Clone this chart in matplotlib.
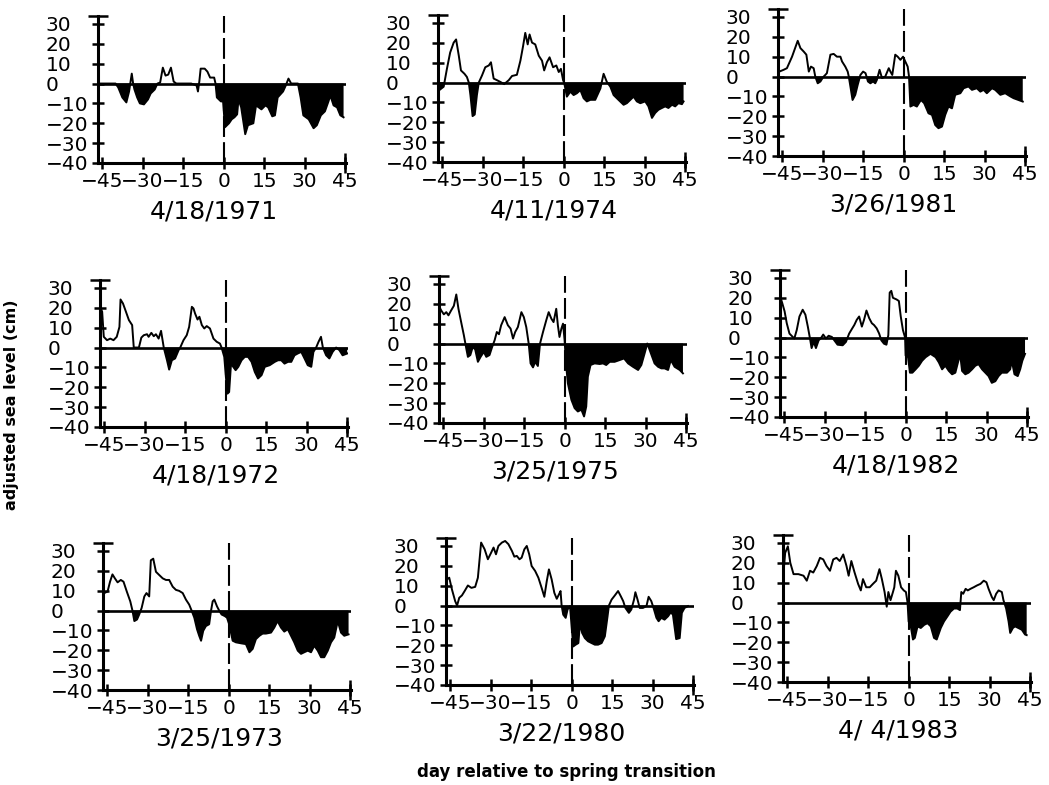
import matplotlib
matplotlib.use("Agg")
import matplotlib.pyplot as plt
import numpy as np

# ---- data: adjusted sea level (cm) vs day relative to spring transition ----
d71 = [-46.3, -40, -39, -37.5, -36, -35, -34, -33.5, -33, -32, -31, -29.5, -28, -27, -25.5, -24.5, -23.5,
       -22.5, -21.5, -20.5, -19.5, -18.5, -17.5, -12, -10, -9.5, -9, -8.5, -7, -6, -5, -3.5, -3, -2.5, -1,
       -0.2, 0.5, 2, 3, 4, 5, 5.5, 6.5, 8, 9, 11, 12, 14, 15.5, 16.5, 18, 19, 20, 22, 23, 24, 25, 27.5,
       28.5, 29.5, 31.5, 33.3, 34.5, 36, 37.5, 38.8, 39.5, 40.7, 42, 43.2, 44.4]
v71 = [0, 0, -2, -7, -9.5, -4, 5, 0, -3, -7, -10, -10.5, -8, -5, -3, 0, 0.5, 8, 4, 4.5, 8, 1, 0, 0, -1,
       -4, 1, 7.5, 7.5, 6, 3, 3, 0, -7, -9, -9, -22, -20, -18, -17, -15.5, -8, -12, -25.5, -21, -20, -11,
       -13, -11, -12, -16.5, -16, -7, -4, -1, 2.5, 0, 0, -7, -16, -18, -22.5, -21, -16, -14, -9, -6, -11,
       -12, -16, -17]

d74 = [-46, -44.4, -43.2, -42, -40.7, -39.8, -38.8, -38, -36.7, -35.8, -35.1, -34.5, -33.7, -32.9, -32.1,
       -31.4, -30.2, -29, -27.7, -26.9, -25.9, -24.7, -23.4, -22, -20.3, -19.1, -17.3, -16, -15, -14.2,
       -13.3, -12.6, -11.7, -10.5, -9.2, -8, -7.2, -6.2, -5.2, -3.9, -2.7, -1.8, -1, -0.2, 0.2, 1.2, 2.5,
       3.7, 4.9, 6.2, 7.4, 8.6, 9.9, 11.7, 13.6, 14.8, 16, 17.3, 18.5, 20.3, 22.2, 23.4, 24.7, 25.9, 27.1,
       28.4, 30.2, 31.4, 32.7, 33.9, 35.1, 36.4, 37.6, 38.8, 40.1, 41.3, 42.5, 43.8, 44.4]
v74 = [-3.8, -2.1, 6.9, 15.1, 20.1, 21.7, 13.5, 6.1, 4.4, 2.8, 0, -6.3, -16.9, -16.1, -6.3, 0, 3.6, 7.7,
       8.6, 10.2, 2, 1.2, 0.3, -0.8, 1.2, 3.3, 3.9, 11, 18.4, 25, 19.2, 24.2, 20.1, 19.2, 13.5, 11, 6.1,
       10.2, 12.7, 7.7, 8.6, 5.3, 6.9, 1.2, 0, -7.1, -4.6, -6.3, -5.4, -3.8, -7.9, -9.5, -8.7, -8.7, -3,
       4.4, 0.3, -2.1, -6.3, -8.7, -11.2, -10.4, -8.7, -7.1, -9.5, -10.4, -9.5, -12, -17.8, -15.3, -13.7,
       -12.8, -12, -12.8, -11.2, -12, -10.4, -10.9, -9.5]

d81 = [-46, -44.4, -43.2, -41.3, -39.2, -38.2, -37, -36, -35.1, -34.3, -33.3, -32.7, -31.8, -30.8, -29.8,
       -29, -28.4, -27.1, -25.9, -24.7, -23.4, -22.8, -21.6, -20.7, -20.3, -19.7, -18.9, -17.9, -17, -16,
       -15, -14.1, -13.2, -12.3, -11.3, -10.5, -9.9, -8.9, -8, -6.8, -5.5, -4.9, -4.2, -3.1, -2.2, -1.2,
       -0.2, 0.6, 1.5, 2, 2.5, 3.7, 4.9, 6.4, 7.6, 9.2, 10.5, 11.7, 12.9, 14.2, 15.4, 16.6, 17.9, 19.1, 21,
       22.2, 24, 25.3, 27.1, 28.4, 29.6, 30.8, 32.7, 33.9, 35.8, 37.6, 39.5, 40.7, 42.5, 44.1]
v81 = [2.5, 3.4, 4.2, 10, 18, 14.3, 12.6, 11, 2.5, 5, 4.2, 0, -3.4, -2.5, -0.3, 0.8, 1.7, 11, 11.4, 10, 10,
       7.6, 5, 2.5, 0, -5, -11.8, -9.2, -4.2, 0.8, 2.5, 1.7, -2.5, -3.4, -2.5, -3.4, -1.7, 3.4, -0.8, 0,
       4.2, 2.5, 0.8, 11, 10, 8.4, 10, 7.6, 5, 0, -15.1, -14.3, -15.1, -11.8, -13.4, -18.5, -19.3, -24.4,
       -26, -25.2, -19.3, -15.1, -16, -9.2, -8.4, -5.9, -5, -6.7, -5.9, -7.6, -6.7, -8.4, -5.9, -6.7, -9.2,
       -8.4, -10, -10.9, -11.8, -12.6]

d72 = [-46.3, -45.7, -45.1, -43.9, -42.7, -41.5, -40.3, -39.3, -38.9, -38, -37.1, -35.8, -34.6, -34, -32.1,
       -31.2, -30.3, -29.1, -28.5, -27.5, -26.6, -25.8, -24.8, -23.9, -22.9, -21.7, -20.9, -19.9, -18.7,
       -17.4, -16.8, -15.6, -14.4, -13.5, -12.5, -11.9, -11.3, -10.4, -9.7, -8.8, -7.9, -7, -5.8, -4.5,
       -3.3, -2.1, -1.5, -0.5, 0.1, 0.7, 1.3, 2, 2.8, 3.7, 4.7, 5.9, 7.1, 8.3, 9.6, 10.8, 12, 13.3, 14.5,
       16.3, 18.2, 19.4, 20.6, 21.8, 23.1, 24.3, 25.5, 26.7, 28, 29.2, 30.4, 31.7, 32.5, 33.5, 34.4, 35.3,
       36, 37.2, 38.4, 39.6, 40.9, 42.1, 43.3, 45]
v72 = [20, 18, 5.4, 3.7, 4.5, 3.7, 5.4, 10.4, 24.2, 22.2, 18.8, 13.8, 11.3, 0, 0, 5, 6.2, 6.7, 5.4, 7.4,
       5.7, 6.7, 4.5, 8.4, 0, -6.4, -11.1, -6.4, -5.5, -1.3, 0, 3.7, 6.2, 10.4, 20.5, 19.7, 17.1, 14.1, 15.5,
       11.3, 9.6, 10.8, 9.6, 4.5, 2.9, 2, 0, -4.7, -14.8, -23.2, -22.4, -8.1, -9.7, -11.4, -9.7, -6.4, -4.7,
       -4.7, -7.2, -12.3, -15.6, -13.9, -9.7, -8.9, -7.2, -6.4, -6.4, -8.1, -7.2, -7.2, -3.9, -3, -2.2,
       -5.5, -8.9, -9.7, -2.2, 0, 2.9, 5.4, 0, -3.9, -5.5, -2.2, 0, -1.3, -3.9, -3]

d75 = [-46.3, -45.7, -44.7, -43.8, -43, -42, -41, -40.1, -39.3, -38.3, -37.3, -36.4, -35.8, -34.9, -34,
       -33.1, -32.1, -31.1, -29.9, -29, -27.8, -26.9, -25.9, -25.1, -24.3, -23.5, -22.2, -21, -20, -19.1,
       -18.3, -17.3, -16, -15.1, -14.2, -13.3, -12.6, -11.7, -10.9, -9.9, -9.1, -8, -6.8, -5.9, -4.9, -4.1,
       -3.1, -2.5, -1.9, -1.2, -0.6, 0, 0.5, 1.2, 2.5, 3.7, 4.9, 6.2, 7.2, 8, 8.6, 9.6, 11.1, 13, 14.2,
       15.4, 16.7, 18.5, 20.4, 22, 23.5, 25.3, 27.2, 28.4, 29.6, 30.6, 31.5, 33.3, 34.6, 35.8, 37, 38.3,
       39.3, 40.7, 42.6, 43.8]
v75 = [18.3, 16.7, 14.7, 15.8, 14.2, 16.7, 19, 24.7, 17.5, 10.8, 4.2, -2.5, -6.7, -5.8, -1.7, -3, -9.2,
       -6.7, -4.2, -6.7, -5.8, -2, 1.7, 5.8, 4.7, 9.2, 13.3, 9.2, 7.5, 2.5, 5.8, 8.3, 15.8, 13.3, 8.3, 0,
       -10, -12, -9.2, -11.3, 0, 5.8, 11.7, 15.8, 12.5, 10.8, 17.5, 9.2, 3.3, 7.5, 10, 1.7, -10, -20,
       -28.3, -32.5, -34.2, -33.3, -36.7, -31.7, -16.7, -10.8, -10, -10.3, -10, -10.8, -9.2, -9.2, -8.3,
       -7.5, -10, -11.7, -13.3, -10.8, -5, 0, -3.3, -10, -11.7, -12.5, -12.5, -13.3, -8.3, -11.7, -13.3, -15]

d82 = [-46.3, -45.7, -44.8, -44, -43, -41.2, -40.3, -39.3, -38.1, -37.1, -36.2, -35.4, -34.8, -34, -33.2,
       -32.2, -31.3, -30.5, -29.5, -28.5, -27.3, -26.4, -25.2, -23.3, -22.1, -20.9, -19.9, -19, -18.1,
       -17.2, -16.2, -15.4, -14.5, -13.5, -12.5, -11.7, -10.7, -9.8, -9, -8, -7.1, -6.4, -5.9, -5.3, -4.7,
       -3.4, -2.5, -1.8, -1, -0.2, 0, 0.9, 1.6, 2.5, 3.7, 4.9, 6.1, 7.4, 9.2, 11.1, 12.3, 13.5, 14.7, 16,
       17.2, 18.4, 19.7, 20.3, 20.9, 22.1, 23.3, 24.6, 25.8, 27, 28.3, 29.5, 30.7, 31.9, 33.2, 34.4, 35.6,
       37.5, 38.7, 39.3, 40.3, 41.5, 42.4, 43.2, 44.2]
v82 = [20, 17.5, 13.2, 7.2, 2, -0.5, 3.8, 10.6, 14, 11.5, 5.5, -0.5, -5.3, -2.2, -5.3, -1.4, -0.2, 1.5,
       -0.5, 0.9, 0.3, -1.4, -3.6, -3.9, -2.2, 2, 4.3, 6.3, 8.9, 10.6, 5.5, 8.9, 13.6, 9.8, 7.2, 6.3, 4.6,
       2, -1.4, -3.1, -3.6, 1.2, 22.6, 23.5, 20, 19.2, 18.4, 10.6, 3.8, 0, -9.1, -9.9, -17.7, -17.7, -16,
       -14.2, -11.7, -9.9, -8.2, -9.9, -12.5, -16, -14.2, -16.8, -18.5, -17.7, -10.8, -9.9, -16.8, -18.5,
       -17.7, -16, -14.2, -13.4, -16, -17.7, -19.4, -22.8, -22, -19.4, -17.7, -17.7, -16, -11.7, -18.5,
       -19.4, -16, -11.7, -8.2]

d73 = [-46.5, -46, -44.8, -43.9, -43, -42.1, -41.1, -39.9, -38.9, -37.7, -36.4, -35.6, -34.9, -33.9, -33.1,
       -32.2, -31.2, -30.4, -29.4, -28.8, -27.9, -26.9, -25.7, -24.4, -23.2, -22, -20.7, -19.5, -18.3, -17,
       -15.8, -14.6, -13.7, -12.7, -11.7, -10.9, -10.2, -9.4, -8.4, -7.2, -6.5, -5.9, -5.3, -4.3, -3.5,
       -2.6, -1.4, -0.6, 0.2, 1.5, 2.7, 4.6, 6.4, 7.7, 8.9, 10.1, 11.4, 12.6, 13.8, 15.7, 16.9, 18.1, 19.4,
       20.6, 21.9, 23.1, 24.3, 25.6, 26.8, 28, 29.3, 30.5, 31.7, 33, 34.2, 35.4, 36.7, 37.9, 39.1, 40.4,
       41.6, 42.8, 44.4]
v73 = [11.2, 8.8, 9.6, 14.5, 18.2, 16.2, 14.2, 15.4, 14.5, 9.6, 4.6, 0, -5.3, -4.5, -2, 1.3, 7.1, 8.8, 7.1,
       25.3, 26.1, 19.5, 17.9, 16.2, 15.4, 15.4, 12, 10.4, 9.9, 8.8, 5.5, 3, 0, -3.6, -9.4, -12.7, -15.2,
       -10.2, -7.8, -6.9, 0, 4.6, 5.5, 2.1, 0, -2, -2.8, -3.6, -6.9, -15.2, -16, -16.5, -16.9, -21, -19.3,
       -14.4, -12.7, -11.6, -11.6, -11.1, -8.6, -5.3, -8.6, -10.6, -9.4, -12.7, -16, -20.2, -21.8, -21,
       -20.2, -21, -17.7, -20.2, -23.5, -23.5, -20.2, -16, -13.6, -5.3, -11.1, -12.7, -12]

d80 = [-46.1, -45.3, -44.3, -43.1, -42.4, -41.6, -40.6, -39.6, -38.4, -37.1, -35.7, -34.7, -33.5, -32.2, -31,
       -29.8, -28.9, -28, -27.1, -25.8, -24.6, -23.4, -22.1, -21.2, -20.3, -19.3, -18.5, -17.5, -16.6,
       -15.7, -14.8, -13.5, -12.3, -11.1, -10.1, -9.2, -8.4, -7.4, -6.4, -5.5, -4.7, -4.1, -3.7, -3.1,
       -2.2, -1.5, -0.6, 0, 0.6, 1.5, 2.5, 3.1, 3.9, 4.9, 6.1, 7.4, 8.6, 9.8, 11.1, 12.3, 13.3, 13.8, 14.8,
       16, 17.2, 18.2, 19.1, 19.9, 21.2, 22.1, 23.1, 23.6, 24.4, 25.2, 26.4, 27.7, 28.5, 29.5, 30.5, 31.4,
       32.2, 33.2, 34.4, 35.7, 36.7, 37.5, 38.7, 40, 40.8, 41.8, 43.1]
v80 = [13.2, 14, 8.1, 2.2, 0, 3.9, 5.1, 7.3, 10.1, 8.9, 9.4, 14, 31.7, 28.3, 23.3, 26.6, 29.2, 25.8, 30,
       31.7, 32.5, 30.9, 27.5, 24.6, 25, 23.3, 24.1, 28.3, 30, 25.8, 19.9, 17.4, 14, 8.9, 4.4, 12.3, 18.2,
       13.2, 6.4, 3.4, 5.6, 7.3, 0, -4.6, -6.2, -2, -0.3, -10.5, -20.6, -19.7, -18.9, -8.8, -13.8, -16.4,
       -18, -18.9, -19.7, -19.7, -18.9, -15.5, -5.4, 0, 3, 5.1, 7.3, 4.7, 2.2, -1.2, -3.7, -2, 3, 6.7, 3,
       -1.2, -1.2, -0.3, 4.4, 2.2, -2, -6.2, -7.9, -6.2, -7.1, -5.4, -3.4, -4.6, -16.9, -16.4, -3.7, -1.2,
       -0.3]

d83 = [-46.5, -46.3, -45.7, -44.7, -43.8, -42.6, -40.8, -38.9, -37.7, -36.5, -35.3, -34, -32.8, -31.6,
       -30.4, -29.1, -27.9, -26.7, -25.5, -24.2, -23, -22.2, -21.2, -20, -18.7, -17.7, -16.9, -15.7, -14.4,
       -13.2, -12, -10.8, -9.9, -8.9, -8.1, -7.5, -6.7, -5.8, -5.3, -4.7, -3.8, -2.8, -1.8, -1, -0.4, 0,
       0.9, 1.6, 2.3, 3.3, 4.5, 5.8, 7, 8.2, 9.4, 10.4, 11.9, 13.1, 14.3, 15.5, 16.8, 18, 19, 19.5, 20.2,
       21.1, 21.9, 22.9, 24.1, 25.3, 26.6, 27.8, 28.8, 29.6, 30.8, 31.5, 32.4, 33.3, 34.5, 35.1, 36.1, 37,
       37.6, 38.6, 39.4, 40.6, 41.9, 43.1, 43.7]
v83 = [20, 15.1, 25, 28.3, 20, 14.3, 14.3, 13.5, 11, 16, 15.1, 18.4, 22.5, 21.7, 18.4, 16, 21.7, 22.5,
       20.9, 24.2, 18.4, 13.5, 20.9, 15.1, 9.4, 6.1, 11.8, 7.7, 7.7, 9.4, 11, 16.8, 11.8, 5.3, -2.1, 5.3,
       1.2, 5.3, 7.7, 16, 13.5, 7.7, 6.1, 5.3, 0, -9.5, -12.8, -18.6, -17.8, -12, -12.8, -11.2, -10.4, -12,
       -17.8, -18.6, -12.8, -9.5, -7.1, -4.6, -3, -3, -3.8, 5.3, 4.4, 6.9, 6.1, 6.9, 7.7, 8.6, 9.4, 11,
       10.2, 6.9, 2.8, 1.2, 4.4, 6.1, 5.3, 1.2, -3, -9.5, -15.3, -12.8, -12, -12.8, -13.7, -16.1, -16.4]

dates = ["4/18/1971", "4/11/1974", "3/26/1981",
         "4/18/1972", "3/25/1975", "4/18/1982",
         "3/25/1973", "3/22/1980", "4/ 4/1983"]
series = [(d71, v71), (d74, v74), (d81, v81),
          (d72, v72), (d75, v75), (d82, v82),
          (d73, v73), (d80, v80), (d83, v83)]
xticks = [-45, -30, -15, 0, 15, 30, 45]
yticks = [-40, -30, -20, -10, 0, 10, 20, 30]

# panel placement in pixels: (left of y axis, bottom of x axis)
W, H = 1049, 785
corners = [(98, 163), (438, 162), (778, 156),
           (100, 427), (439, 423), (780, 417),
           (103, 690), (446, 685), (783, 682)]
pw, ph = 248, 147

plt.rcParams['font.family'] = ['DejaVu Sans']
fig = plt.figure(figsize=(W / 100, H / 100), dpi=100)

for (x0, yb), (d, v), date in zip(corners, series, dates):
    assert len(d) == len(v)
    d = np.array(d)
    v = np.array(v)
    ax = fig.add_axes([x0 / W, 1 - yb / H, pw / W, ph / H])
    ax.fill_between(d, v, 0, where=v < 0, interpolate=True, color='black', lw=0)
    ax.plot(d, v, color='black', lw=1.4)
    ax.axhline(0, color='black', lw=1.9)
    ax.axvline(0, color='black', lw=1.5, dashes=(10, 2.5))

    ax.set_xlim(-46.5, 45.3)
    ax.set_ylim(-40, 34)
    for s in ['top', 'right']:
        ax.spines[s].set_visible(False)
    for s in ['left', 'bottom']:
        ax.spines[s].set_linewidth(2.2)

    ax.set_xticks(xticks)
    ax.set_xticklabels([str(t).replace('-', '\u2212') for t in xticks])
    ax.set_yticks(yticks)
    ax.set_yticklabels([str(t).replace('-', '\u2212') for t in yticks])
    ax.set_xticks([45], minor=True)
    ax.set_yticks([34], minor=True)
    ax.xaxis.remove_overlapping_locs = False
    ax.tick_params(axis='both', which='major', direction='inout', length=9, width=1.8,
                   labelsize=14.5)
    ax.tick_params(axis='x', which='major', pad=2)
    ax.tick_params(axis='y', which='major', pad=33)
    ax.tick_params(axis='both', which='minor', direction='inout', length=14, width=1.8)
    plt.setp(ax.get_yticklabels(), ha='left')

    ax.annotate(date, xy=(0.5, 0), xycoords='axes fraction', xytext=(-6, -35),
                textcoords='offset points', ha='center', va='center', fontsize=18)

fig.text(12 / W, 1 - 405 / H, 'adjusted sea level (cm)', rotation=90, ha='center', va='center',
         fontsize=11.5, fontweight='bold')
fig.text(566 / W, 1 - 772 / H, 'day relative to spring transition', ha='center', va='center',
         fontsize=12, fontweight='bold')

fig.savefig('out.png', dpi=100)
